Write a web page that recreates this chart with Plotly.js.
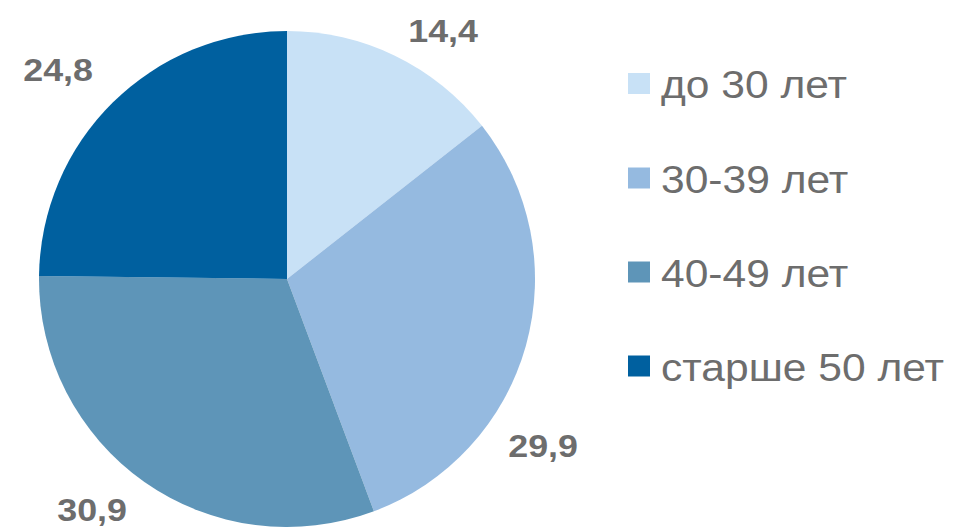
<!DOCTYPE html>
<html>
<head>
<meta charset="utf-8">
<script src="https://cdn.plot.ly/plotly-3.0.1.min.js"></script>
<style>
html,body{margin:0;padding:0;background:#fff;}
#chart{width:953px;height:531px;}
</style>
</head>
<body>
<div id="chart"></div>
<script>
// ---- data ----
const categories = ["до 30 лет", "30-39 лет", "40-49 лет", "старше 50 лет"];
const shares = [14.4, 29.9, 30.9, 24.8];
const valueLabels = ["14,4", "29,9", "30,9", "24,8"];
const sliceColors = ["#C8E1F6", "#95BAE0", "#5E95B8", "#00609F"];

// ---- layout helpers (pixel -> paper) ----
const W = 953, H = 531;
const px = x => x / W;
const py = y => 1 - y / H;

const labelPos = [[443, 31], [543, 446], [92, 510], [58, 70]];
const legendY = [83.5, 178, 272, 366];

const annotations = [];
const shapes = [];
valueLabels.forEach((t, i) => {
  annotations.push({
    xref: 'paper', yref: 'paper', x: px(labelPos[i][0]), y: py(labelPos[i][1]),
    xanchor: 'center', yanchor: 'middle', showarrow: false, text: t,
    font: {family: 'Liberation Sans, Arial, sans-serif', size: 32, color: '#6D6D6D', weight: 'bold'}
  });
});
categories.forEach((c, i) => {
  shapes.push({
    type: 'rect', xref: 'paper', yref: 'paper',
    x0: px(628), x1: px(650), y0: py(legendY[i] + 10.5), y1: py(legendY[i] - 10.5),
    fillcolor: sliceColors[i], line: {width: 0}
  });
  annotations.push({
    xref: 'paper', yref: 'paper', x: px(659), y: py(legendY[i] + 1.5),
    xanchor: 'left', yanchor: 'middle', showarrow: false, text: c,
    font: {family: 'Liberation Sans, Arial, sans-serif', size: 38, color: '#6D6D6D'}
  });
});

const trace = {
  type: 'pie',
  labels: categories,
  values: shares,
  sort: false,
  direction: 'clockwise',
  rotation: 0,
  marker: {colors: sliceColors, line: {width: 0}},
  textinfo: 'none',
  hoverinfo: 'label+value',
  showlegend: false,
  domain: {x: [px(39), px(535)], y: [py(527), py(31)]}
};

const layout = {
  width: W, height: H,
  margin: {l: 0, r: 0, t: 0, b: 0},
  paper_bgcolor: '#ffffff',
  showlegend: false,
  annotations: annotations,
  shapes: shapes
};

Plotly.newPlot('chart', [trace], layout, {displayModeBar: false, staticPlot: true}).then(() => {
  document.querySelectorAll('.annotation-text').forEach(el => {
    const isLegend = categories.includes(el.textContent);
    el.style.transformBox = 'fill-box';
    el.style.transformOrigin = isLegend ? 'left center' : 'center center';
    el.style.transform = 'scaleX(1.12)';
  });
});
</script>
</body>
</html>
